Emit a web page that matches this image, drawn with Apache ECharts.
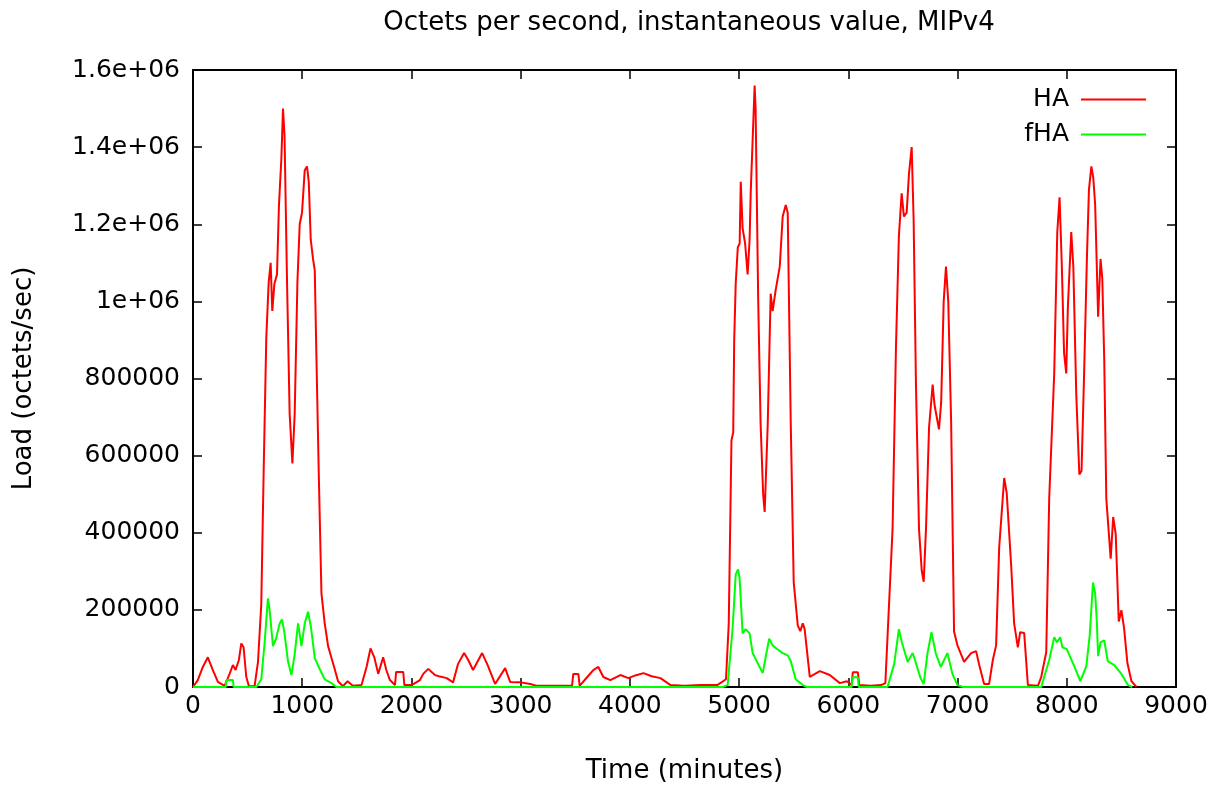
<!DOCTYPE html>
<html>
<head>
<meta charset="utf-8">
<title>Octets per second, instantaneous value, MIPv4</title>
<script src="https://cdn.jsdelivr.net/npm/echarts@6/dist/echarts.min.js"></script>
<style>
  html, body { margin: 0; padding: 0; background: #ffffff; }
  #chart { width: 1224px; height: 789px; }
</style>
</head>
<body>
<div id="chart"></div>
<script>
// Load of the home agent (HA) and the foreign home agent (fHA), in octets per second
const haTime = [
  0, 44, 90, 136, 182, 228, 289, 335, 365, 390, 420, 442, 463, 488, 512, 564,
  595, 625, 647, 671, 693, 711, 726, 745, 769, 787, 809, 824, 838, 861, 885, 910,
  931, 956, 977, 998, 1023, 1044, 1060, 1078, 1099, 1115, 1130, 1151, 1176, 1206,
  1237, 1268, 1298, 1328, 1372, 1415, 1463, 1543, 1589, 1625, 1660, 1696, 1741,
  1770, 1803, 1849, 1860, 1925, 1935, 2001, 2078, 2108, 2154, 2185, 2215, 2261,
  2323, 2381, 2427, 2482, 2520, 2564, 2647, 2693, 2766, 2858, 2904, 2950, 3000,
  3088, 3150, 3300, 3470, 3482, 3528, 3540, 3610, 3665, 3711, 3757, 3821, 3913,
  3986, 4050, 4124, 4200, 4280, 4372, 4500, 4650, 4800, 4880, 4905, 4930, 4946,
  4955, 4969, 4988, 5005, 5015, 5032, 5055, 5078, 5096, 5106, 5142, 5151, 5175,
  5197, 5220, 5234, 5262, 5289, 5307, 5335, 5372, 5399, 5427, 5445, 5473, 5500,
  5537, 5560, 5583, 5600, 5647, 5739, 5830, 5922, 5986, 6030, 6041, 6087, 6100,
  6200, 6300, 6339, 6405, 6436, 6463, 6488, 6509, 6534, 6555, 6580, 6598, 6619,
  6647, 6672, 6690, 6711, 6739, 6772, 6790, 6830, 6850, 6873, 6894, 6915, 6941,
  6968, 6999, 7060, 7124, 7170, 7197, 7243, 7289, 7323, 7353, 7381, 7427, 7450,
  7491, 7518, 7552, 7573, 7610, 7644, 7736, 7766, 7812, 7839, 7885, 7913, 7934,
  7955, 7975, 7995, 8010, 8041, 8060, 8087, 8115, 8135, 8158, 8185, 8203, 8225,
  8243, 8260, 8275, 8287, 8309, 8325, 8343, 8362, 8402, 8425, 8448, 8476, 8500,
  8525, 8555, 8592, 8638
];
const haLoad = [
  0, 18000, 52000, 77000, 44000, 13000, 3000, 34000, 57000, 44000, 70000, 113000, 103000, 26000, 2000, 2000,
  65000, 214000, 560000, 906000, 1050000, 1100000, 975000, 1045000, 1070000, 1250000, 1370000, 1500000, 1430000, 1050000, 708000, 580000,
  708000, 1050000, 1200000, 1230000, 1340000, 1350000, 1310000, 1160000, 1110000, 1080000, 856000, 560000, 243000, 165000,
  106000, 75000, 46000, 15000, 2000, 15000, 3000, 5000, 52000, 100000, 77000, 34000, 77000,
  44000, 18000, 5000, 39000, 39000, 5000, 5000, 18000, 34000, 47000, 39000, 31000, 27000,
  23000, 12000, 60000, 88000, 70000, 44000, 88000, 60000, 8000, 49000, 13000, 12000, 12000,
  8000, 3000, 3000, 3000, 34000, 34000, 3000, 26000, 44000, 52000, 26000, 18000, 31000,
  23000, 30000, 36000, 28000, 23000, 5000, 3000, 5000, 5000, 20000, 163000, 640000, 660000,
  900000, 1047000, 1140000, 1150000, 1310000, 1190000, 1150000, 1070000, 1160000, 1280000, 1560000, 1500000, 1000000,
  681000, 500000, 454000, 681000, 1020000, 975000, 1030000, 1090000, 1220000, 1250000, 1230000, 681000, 271000,
  160000, 145000, 165000, 150000, 26000, 41000, 31000, 10000, 15000, 5000, 38000, 38000, 5000,
  3000, 5000, 10000, 410000, 880000, 1170000, 1280000, 1220000, 1230000, 1330000, 1400000, 1210000, 787000,
  410000, 302000, 273000, 410000, 673000, 784000, 730000, 668000, 738000, 1000000, 1090000, 1000000, 691000,
  144000, 108000, 65000, 88000, 93000, 59000, 8000, 8000, 70000, 108000, 361000, 542000, 503000,
  315000, 165000, 103000, 142000, 140000, 5000, 3000, 26000, 90000, 488000, 813000, 1180000, 1270000,
  1090000, 867000, 813000, 985000, 1180000, 1090000, 758000, 551000, 560000, 805000, 1120000, 1290000, 1350000,
  1320000, 1250000, 1090000, 960000, 1110000, 1060000, 849000, 488000, 333000, 441000, 397000, 170000, 199000,
  152000, 62000, 15000, 0
];

const fhaTime = [
  0, 300, 305, 366, 372, 580, 625, 656, 686, 700, 732, 760, 794, 815, 835, 870,
  901, 931, 962, 993, 1023, 1053, 1080, 1115, 1161, 1206, 1268, 1313, 4850, 4895,
  4940, 4969, 4990, 5005, 5032, 5060, 5096, 5124, 5170, 5216, 5243, 5275, 5307,
  5350, 5399, 5445, 5473, 5518, 5583, 5620, 6030, 6041, 6087, 6095, 6359, 6420,
  6463, 6490, 6543, 6589, 6610, 6661, 6690, 6725, 6761, 6800, 6846, 6907, 6953,
  6999, 7050, 7766, 7839, 7885, 7910, 7940, 7960, 8000, 8068, 8124, 8179, 8210,
  8240, 8260, 8275, 8287, 8309, 8343, 8375, 8434, 8500, 8560, 8600
];
const fhaLoad = [
  0, 0, 18000, 18000, 0, 0, 20000, 116000, 230000, 204000, 106000, 125000, 165000, 175000, 145000, 66000,
  31000, 85000, 165000, 106000, 165000, 195000, 155000, 75000, 46000, 20000, 10000, 0, 0, 5000,
  150000, 292000, 305000, 281000, 139000, 150000, 139000, 88000, 62000, 36000, 77000, 125000, 108000,
  98000, 88000, 82000, 67000, 20000, 5000, 0, 0, 25000, 25000, 0, 0, 60000,
  150000, 116000, 65000, 88000, 70000, 23000, 8000, 88000, 142000, 88000, 52000, 88000, 34000,
  5000, 0, 0, 70000, 129000, 116000, 129000, 103000, 98000, 54000, 15000, 54000, 134000,
  271000, 243000, 170000, 80000, 116000, 121000, 67000, 57000, 34000, 5000, 0
];

const seriesNames = ['HA', 'fHA'];
const seriesColors = ['#ff0000', '#00ff00'];

const xTicks = [0, 1000, 2000, 3000, 4000, 5000, 6000, 7000, 8000, 9000];
const xTickLabels = ['0', '1000', '2000', '3000', '4000', '5000', '6000', '7000', '8000', '9000'];
const yTicks = [0, 200000, 400000, 600000, 800000, 1000000, 1200000, 1400000, 1600000];
const yTickLabels = ['0', '200000', '400000', '600000', '800000', '1e+06', '1.2e+06', '1.4e+06', '1.6e+06'];

const FONT = 'DejaVu Sans';

function pairs(xs, ys) {
  return xs.map(function (x, i) { return [x, ys[i]]; });
}

function xLabel(v) {
  const i = xTicks.indexOf(v);
  return i >= 0 ? xTickLabels[i] : '';
}

function yLabel(v) {
  const i = yTicks.indexOf(v);
  return i >= 0 ? yTickLabels[i] : '';
}

// Closed frame: every side carries a line with inward ticks
const frameLine = { show: true, onZero: false, lineStyle: { color: '#000000', width: 2 } };
const frameTick = { show: true, inside: true, length: 9, lineStyle: { color: '#000000', width: 1.5 } };

const chart = echarts.init(document.getElementById('chart'), null, { renderer: 'canvas' });

chart.setOption({
  animation: false,
  backgroundColor: '#ffffff',
  title: {
    text: 'Octets per second, instantaneous value, MIPv4',
    left: 684,
    top: 5,
    textAlign: 'center',
    textStyle: { fontFamily: FONT, fontSize: 26, fontWeight: 'normal', color: '#000000' }
  },
  legend: {
    data: seriesNames,
    orient: 'vertical',
    align: 'right',
    right: 73,
    top: 82,
    itemGap: 10,
    itemWidth: 65,
    itemHeight: 2,
    icon: 'rect',
    textStyle: { fontFamily: FONT, fontSize: 25, color: '#000000', padding: [0, 7, 0, 0] }
  },
  grid: { left: 193, right: 48, top: 70, bottom: 99, containLabel: false },
  xAxis: [
    {
      type: 'value',
      min: xTicks[0],
      max: xTicks[xTicks.length - 1],
      interval: 1000,
      name: 'Time (minutes)',
      nameLocation: 'middle',
      nameGap: 71,
      nameTextStyle: { fontFamily: FONT, fontSize: 26, color: '#000000' },
      axisLine: frameLine,
      axisTick: frameTick,
      splitLine: { show: false },
      axisLabel: { fontFamily: FONT, fontSize: 25, color: '#000000', margin: 7, formatter: xLabel }
    },
    {
      type: 'value',
      position: 'top',
      min: xTicks[0],
      max: xTicks[xTicks.length - 1],
      interval: 1000,
      axisLine: frameLine,
      axisTick: frameTick,
      splitLine: { show: false },
      axisLabel: { show: false }
    }
  ],
  yAxis: [
    {
      type: 'value',
      min: yTicks[0],
      max: yTicks[yTicks.length - 1],
      interval: 200000,
      name: 'Load (octets/sec)',
      nameLocation: 'middle',
      nameGap: 156,
      nameTextStyle: { fontFamily: FONT, fontSize: 26, color: '#000000' },
      axisLine: frameLine,
      axisTick: frameTick,
      splitLine: { show: false },
      axisLabel: { fontFamily: FONT, fontSize: 25, color: '#000000', margin: 13, formatter: yLabel }
    },
    {
      type: 'value',
      position: 'right',
      min: yTicks[0],
      max: yTicks[yTicks.length - 1],
      interval: 200000,
      axisLine: frameLine,
      axisTick: frameTick,
      splitLine: { show: false },
      axisLabel: { show: false }
    }
  ],
  series: [
    {
      name: seriesNames[0],
      type: 'line',
      xAxisIndex: 0,
      yAxisIndex: 0,
      data: pairs(haTime, haLoad),
      showSymbol: false,
      symbol: 'none',
      color: seriesColors[0],
      lineStyle: { color: seriesColors[0], width: 2 },
      z: 2
    },
    {
      name: seriesNames[1],
      type: 'line',
      xAxisIndex: 0,
      yAxisIndex: 0,
      data: pairs(fhaTime, fhaLoad),
      showSymbol: false,
      symbol: 'none',
      color: seriesColors[1],
      lineStyle: { color: seriesColors[1], width: 2 },
      z: 3
    }
  ]
});
</script>
</body>
</html>
